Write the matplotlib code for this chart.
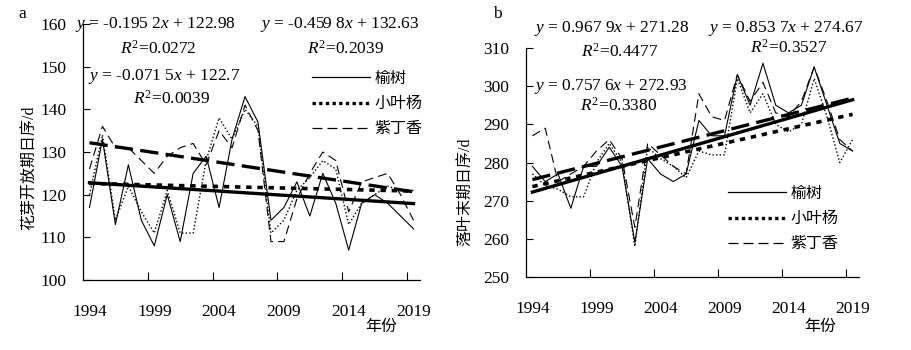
import numpy as np
import matplotlib
matplotlib.use("Agg")
import matplotlib.pyplot as plt
from matplotlib.lines import Line2D
from matplotlib.ticker import NullFormatter

plt.rcParams["font.family"] = ["Liberation Serif", "Noto Sans CJK SC"]
plt.rcParams["mathtext.fontset"] = "custom"
plt.rcParams["mathtext.rm"] = "Liberation Serif"
plt.rcParams["mathtext.it"] = "Liberation Serif:italic"

years = np.arange(1994, 2020)
species = ["榆树", "小叶杨", "紫丁香"]

# a: 花芽开放期
flower_elm = [117, 133, 113, 127, 114, 108, 120, 109, 125, 129, 117, 133, 143,
              137, 114, 117, 123, 115, 125, 118, 107, 118, 120, 118, 115, 112]
flower_poplar = [120, 134, 114, 122, 116, 111, 121, 111, 111, 128, 138, 133, 140,
                 136, 111, 114, 121, 124, 128, 126, 113, 118, 120, 122, 121, 121]
flower_lilac = [126, 136, 131, 131, 128, 125, 129, 131, 132, 127, 135, 131, 141,
                135, 109, 109, 119, 125, 130, 128, 116, 123, 124, 125, 120, 114]

# b: 落叶末期
fall_elm = [279, 275, 277, 268, 279, 279, 284, 279, 259, 281, 277, 275, 277,
            291, 287, 287, 303, 295, 306, 295, 293, 295, 305, 295, 285, 283]
fall_poplar = [277, 274, 273, 271, 271, 280, 285, 280, 258, 284, 281, 279, 276,
               283, 282, 282, 302, 293, 298, 290, 288, 290, 302, 292, 280, 286]
fall_lilac = [287, 289, 275, 277, 279, 283, 286, 281, 263, 285, 282, 279, 277,
              298, 292, 291, 303, 296, 301, 293, 292, 296, 305, 296, 286, 283]

# trend lines (slope, intercept), x = 1..26
flower_fit = [(-0.1952, 122.98), (-0.0715, 122.7), (-0.4598, 132.63)]
fall_fit = [(0.9679, 271.28), (0.7576, 272.93), (0.8537, 274.67)]

flower_eq = [("$y$ = -0.195 2$x$ + 122.98", "$R^2$=0.0272"),
             ("$y$ = -0.071 5$x$ + 122.7", "$R^2$=0.0039"),
             ("$y$ = -0.459 8$x$ + 132.63", "$R^2$=0.2039")]
fall_eq = [("$y$ = 0.967 9$x$ + 271.28", "$R^2$=0.4477"),
           ("$y$ = 0.757 6$x$ + 272.93", "$R^2$=0.3380"),
           ("$y$ = 0.853 7$x$ + 274.67", "$R^2$=0.3527")]

W, H = 911, 350
FS = 12.5      # numbers / equations
CJK = 11.5     # chinese text
thin = [dict(linestyle="-", lw=0.8),
        dict(linestyle=(0, (1, 1.6)), lw=1.0),
        dict(linestyle=(0, (8, 4.5)), lw=0.8)]
thick = [dict(linestyle="-", lw=2.4),
         dict(linestyle=(0, (1.5, 1.6)), lw=2.6),
         dict(linestyle=(0, (5.5, 2.2)), lw=2.4)]


def px(x, y):
    return x / W, 1 - y / H


fig = plt.figure(figsize=(W / 100, H / 100), dpi=100)


def panel(rect, series, fits, ylim, yticks, ylabel, ylabel_xy, letter_xy, letter,
          eq_pos, leg_xy, xlabel_xy):
    ax = fig.add_axes(rect)
    for vals, st in zip(series, thin):
        ax.plot(years, vals, color="black", **st)
    for (k, b), st in zip(fits, thick):
        ax.plot(years, k * (years - 1993) + b, color="black", **st)
    ax.set_xlim(1993.5, 2019.5)
    ax.set_ylim(*ylim)
    ax.set_yticks(yticks)
    ax.set_xticks(np.arange(1998.5, 2019, 5))
    ax.xaxis.set_major_formatter(NullFormatter())
    ax.set_xticks(np.arange(1994, 2020, 5), minor=True)
    ax.set_xticklabels([str(y) for y in range(1994, 2020, 5)], minor=True)
    ax.tick_params(axis="x", which="major", direction="in", length=6, width=0.8)
    ax.tick_params(axis="x", which="minor", length=0, pad=17, labelsize=FS)
    ax.tick_params(axis="y", direction="in", length=5, width=0.8, pad=12, labelsize=FS)
    for s in ["top", "right"]:
        ax.spines[s].set_visible(False)
    for s in ["left", "bottom"]:
        ax.spines[s].set_linewidth(0.9)
    fig.text(*px(*ylabel_xy), ylabel, rotation=90, ha="center", va="center", fontsize=CJK)
    fig.text(*px(*xlabel_xy), "年份", ha="center", va="center", fontsize=CJK)
    fig.text(*px(*letter_xy), letter, ha="center", va="center", fontsize=FS)
    for (eq, r2), (ex, ey, rx, ry) in zip(eq_pos[0], eq_pos[1]):
        fig.text(*px(ex, ey), eq, ha="left", va="center", fontsize=FS)
        fig.text(*px(rx, ry), r2, ha="left", va="center", fontsize=FS)
    handles = [Line2D([], [], color="black", linestyle="-", lw=0.9),
               Line2D([], [], color="black", linestyle=(0, (1, 1)), lw=2.4),
               Line2D([], [], color="black", linestyle=(0, (8, 4)), lw=0.9)]
    ax.legend(handles, species, loc="upper left", bbox_to_anchor=px(*leg_xy),
              bbox_transform=fig.transFigure, frameon=False, fontsize=CJK,
              handlelength=3.6, handletextpad=0.3, labelspacing=0.57,
              borderpad=0, borderaxespad=0)
    return ax


panel([83 / W, 70 / H, 337 / W, 256 / H],
      [flower_elm, flower_poplar, flower_lilac], flower_fit,
      (100, 160), np.arange(100, 161, 10), "花芽开放期日序/d", (30, 168), (22, 14), "a",
      (flower_eq, [(75, 25, 120, 49), (88, 77, 133, 99), (260, 25, 307, 49)]),
      (312, 71), (381, 327))

panel([526 / W, 73 / H, 333 / W, 229 / H],
      [fall_elm, fall_poplar, fall_lilac], fall_fit,
      (250, 310), np.arange(250, 311, 10), "落叶末期日序/d", (466, 192), (497, 14), "b",
      (fall_eq, [(534, 28, 581, 52), (534, 86, 580, 106), (708, 28, 750, 48)]),
      (728, 186), (820, 327))

fig.savefig("out.png", dpi=100)
